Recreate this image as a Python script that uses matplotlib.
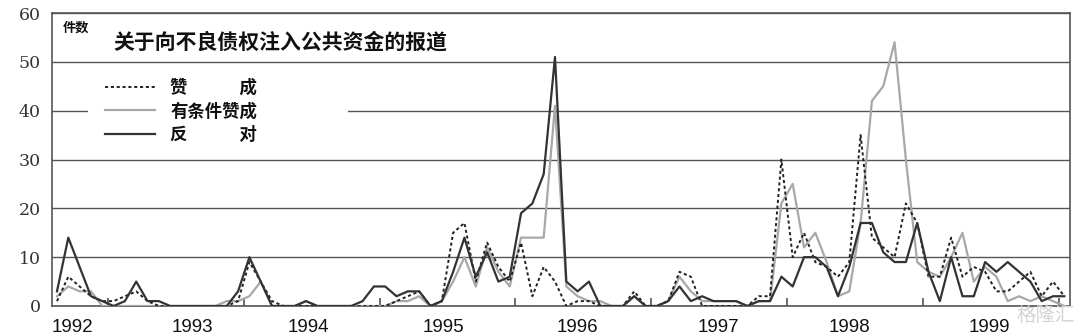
import matplotlib
matplotlib.use('Agg')
import matplotlib.pyplot as plt
from matplotlib.patches import Rectangle

plt.rcParams['font.family'] = ['Noto Sans CJK SC', 'DejaVu Sans']

# monthly counts, Aug 1992 .. Jan 2000
zancheng = [1, 6, 4, 2, 1, 1, 2, 3, 1, 0,
            0, 0, 0, 0, 0, 0, 1, 9, 5, 1,
            0, 0, 0, 0, 0, 0, 0, 0, 0, 0,
            1, 2, 3, 0, 1, 15, 17, 5, 13, 8,
            5, 13, 2, 8, 5, 0, 1, 1, 0, 0,
            0, 3, 0, 0, 1, 7, 6, 0, 0, 0,
            0, 0, 2, 2, 30, 10, 15, 9, 8, 6,
            9, 35, 14, 12, 10, 21, 17, 6, 6, 14,
            6, 8, 7, 3, 3, 5, 7, 2, 5, 2]
youtiaojian = [2, 4, 3, 3, 0, 0, 0, 0, 0, 0,
               0, 0, 0, 0, 0, 1, 1, 2, 5, 0,
               0, 0, 1, 0, 0, 0, 0, 0, 0, 0,
               1, 1, 2, 0, 1, 5, 10, 4, 12, 7,
               4, 14, 14, 14, 41, 4, 2, 1, 1, 0,
               0, 2, 0, 0, 1, 6, 3, 1, 1, 1,
               1, 0, 1, 1, 21, 25, 12, 15, 9, 2,
               3, 17, 42, 45, 54, 30, 9, 7, 6, 10,
               15, 5, 8, 6, 1, 2, 1, 2, 1, 0]
fandui = [3, 14, 8, 2, 1, 0, 1, 5, 1, 1,
          0, 0, 0, 0, 0, 0, 3, 10, 5, 0,
          0, 0, 1, 0, 0, 0, 0, 1, 4, 4,
          2, 3, 3, 0, 1, 7, 14, 6, 11, 5,
          6, 19, 21, 27, 51, 5, 3, 5, 0, 0,
          0, 2, 0, 0, 1, 4, 1, 2, 1, 1,
          1, 0, 1, 1, 6, 4, 10, 10, 8, 2,
          8, 17, 17, 11, 9, 9, 17, 7, 1, 10,
          2, 2, 9, 7, 9, 7, 5, 1, 2, 2]

years = ['1992', '1993', '1994', '1995', '1996', '1997', '1998', '1999']
year_label_pos = [1.4, 12.0, 22.2, 34.1, 46.0, 58.4, 70.0, 82.4]
year_bounds = [4.5, 16.5, 28.5, 40.5, 52.5, 64.5, 76.5, 88.5]

series_names = ['赞\u3000\u3000\u3000成', '有条件赞成', '反\u3000\u3000\u3000对']

months = list(range(len(fandui)))

fig = plt.figure(figsize=(10.8, 3.36), dpi=100)
ax = fig.add_axes([52 / 1080, 1 - 306 / 336, 1018 / 1080, 293 / 336])

l_gray, = ax.plot(months, youtiaojian, color='#a8a8a8', lw=1.6, zorder=3)
l_dot, = ax.plot(months, zancheng, color='#222222', lw=1.4,
                 linestyle=(0, (1.6, 1.4)), zorder=4)
l_dark, = ax.plot(months, fandui, color='#333333', lw=1.6, zorder=5)

ax.set_xlim(-0.44, 89.5)
ax.set_ylim(0, 60)
ax.set_yticks(range(0, 61, 10))
ax.set_yticklabels([str(v) for v in range(0, 61, 10)],
                   family='DejaVu Serif', fontsize=12.5, color='#333333')
ax.tick_params(axis='y', length=0, pad=8)

ax.set_xticks(year_label_pos)
ax.set_xticklabels(years, family='Liberation Sans', fontsize=13.5, color='#111111')
ax.set_xticks(year_bounds, minor=True)
ax.tick_params(axis='x', which='major', length=0, pad=9)
ax.tick_params(axis='x', which='minor', direction='in', length=6,
               width=1.1, color='#444444')

ax.yaxis.grid(True, color='#555555', lw=1.0, zorder=1)
ax.set_axisbelow(True)
for s in ax.spines.values():
    s.set_color('#555555')
    s.set_linewidth(1.2)

# white backing behind the legend (hides gridline)
ax.add_patch(Rectangle((0.0354, 0.539), 0.2554, 0.26, transform=ax.transAxes,
                       facecolor='white', edgecolor='none', zorder=2))

leg = ax.legend([l_dot, l_gray, l_dark], series_names,
                loc='upper left', bbox_to_anchor=(0.052, 0.776),
                frameon=False, fontsize=12.5, handlelength=2.9,
                handletextpad=0.85, labelspacing=0.33, borderpad=0,
                borderaxespad=0)
for t in leg.get_texts():
    t.set_fontweight('bold')
    t.set_color('#111111')

ax.text(0.06, 0.901, '关于向不良债权注入公共资金的报道', transform=ax.transAxes,
        fontsize=15, fontweight='bold', color='#111111', va='center', ha='left')
ax.text(0.0108, 0.949, '件数', transform=ax.transAxes,
        fontsize=9.5, fontweight='bold', color='#111111', va='center', ha='left')

fig.text(0.995, 0.03, '格隆汇', fontsize=14, color='#d4d4d4',
         ha='right', va='bottom')

fig.savefig('out.png', dpi=100)
